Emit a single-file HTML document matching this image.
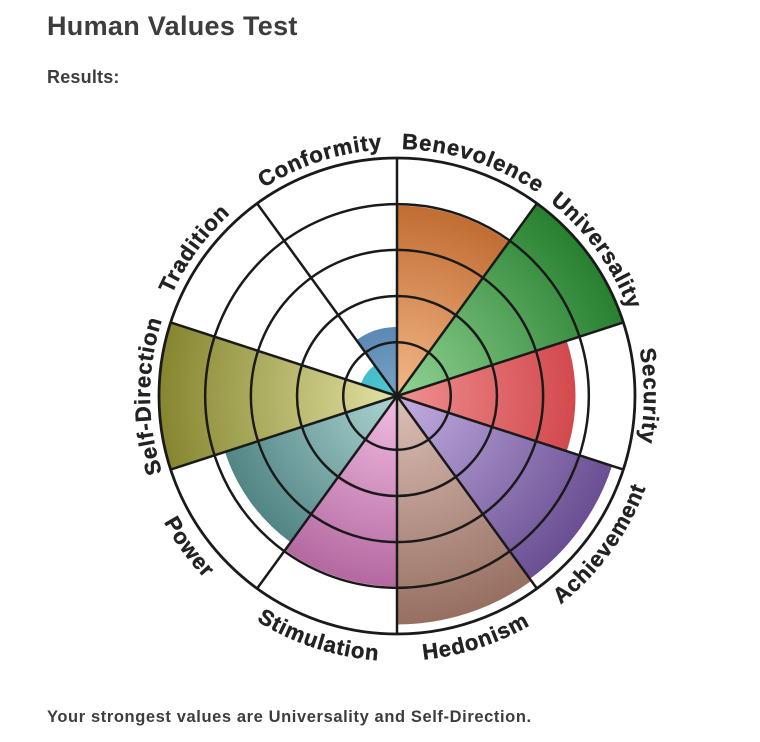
<!DOCTYPE html>
<html><head><meta charset="utf-8"><style>
body{margin:0;background:#fff;width:760px;height:742px;overflow:hidden;font-family:"Liberation Sans",sans-serif;color:#3d3d3d}
h1{position:absolute;left:47px;top:11px;margin:0;font-size:27px;font-weight:bold;letter-spacing:0.3px}
.res{position:absolute;left:47px;top:67px;font-size:18px;font-weight:bold;letter-spacing:0.2px}
.foot{position:absolute;left:47px;top:708px;font-size:16.5px;font-weight:bold;letter-spacing:0.6px}
svg{position:absolute;left:0;top:0}
</style></head><body>
<h1>Human Values Test</h1>
<div class="res">Results:</div>
<svg id="chart" width="760" height="742"></svg>
<div class="foot">Your strongest values are Universality and Self-Direction.</div>
<script>
const categories=["Benevolence","Universality","Security","Achievement","Hedonism","Stimulation","Power","Self-Direction","Tradition","Conformity"];
const scores=[4.0,5.0,3.75,4.75,4.8,4.0,3.8,5.0,0.8,1.45];
const innerColors=["#f4b888","#92d394","#f09090","#c4aee2","#dcc0b8","#f2bde2","#acd4d2","#e2e2a4","#50c8d4","#78a4c8"];
const outerColors=["#b45a1e","#27802f","#c83238","#654a8e","#946c5e","#a45490","#356c6c","#868630","#128896","#17467a"];
const ringValues=[1.13,2.1,3.07,4.03,5];
const maxScore=5;
const cx=397,cy=396,R=238;
const NS="http://www.w3.org/2000/svg";
const svg=document.getElementById('chart');
function rScale(v){return v/maxScore*R;}
function angle(i){return i*36*Math.PI/180;}
function pt(a,r){return [cx+r*Math.sin(a),cy-r*Math.cos(a)];}
function mk(t,attrs){const e=document.createElementNS(NS,t);for(const k in attrs)e.setAttribute(k,attrs[k]);return e;}
const defs=mk('defs',{});svg.appendChild(defs);
categories.forEach((c,i)=>{
  const g=mk('radialGradient',{id:'g'+i,gradientUnits:'userSpaceOnUse',cx:cx,cy:cy,r:R});
  g.appendChild(mk('stop',{offset:'0','stop-color':innerColors[i]}));
  g.appendChild(mk('stop',{offset:'1','stop-color':outerColors[i]}));
  defs.appendChild(g);
  const r=rScale(scores[i]);
  const a0=angle(i),a1=angle(i+1);
  const p0=pt(a0,r),p1=pt(a1,r);
  const p=mk('path',{d:`M${cx},${cy}L${p0[0]},${p0[1]}A${r},${r} 0 0 1 ${p1[0]},${p1[1]}Z`,fill:`url(#g${i})`});
  
  
  svg.appendChild(p);
});
ringValues.forEach((v,k)=>{
  const c=mk('circle',{cx:cx,cy:cy,r:rScale(v),fill:'none',stroke:'#1a1a1a','stroke-width':k==4?2.8:2.5});
  
  
  svg.appendChild(c);
});
categories.forEach((c,i)=>{
  const p=pt(angle(i),R);
  const l=mk('line',{x1:cx,y1:cy,x2:p[0],y2:p[1],stroke:'#1a1a1a','stroke-width':2.5});
  
  
  svg.appendChild(l);
});
categories.forEach((c,i)=>{
  const a0=angle(i),a1=angle(i+1);
  const mid=(i+0.5)*36;
  const bottom=mid>100&&mid<260;
  let d;
  if(!bottom){const r=247;const p0=pt(a0,r),p1=pt(a1,r);d=`M${p0[0]},${p0[1]}A${r},${r} 0 0 1 ${p1[0]},${p1[1]}`;}
  else{const r=265;const p0=pt(a1,r),p1=pt(a0,r);d=`M${p0[0]},${p0[1]}A${r},${r} 0 0 0 ${p1[0]},${p1[1]}`;}
  const path=mk('path',{id:'lp'+i,d:d,fill:'none'});defs.appendChild(path);
  const t=mk('text',{'font-family':'Liberation Sans, sans-serif','font-size':'22','font-weight':'bold',fill:'#222','letter-spacing':'0.9',stroke:'#222','stroke-width':'0.4'});
  
  
  const tp=mk('textPath',{href:'#lp'+i,startOffset:'50%','text-anchor':'middle'});
  tp.textContent=c;t.appendChild(tp);svg.appendChild(t);
});
</script>
</body></html>
